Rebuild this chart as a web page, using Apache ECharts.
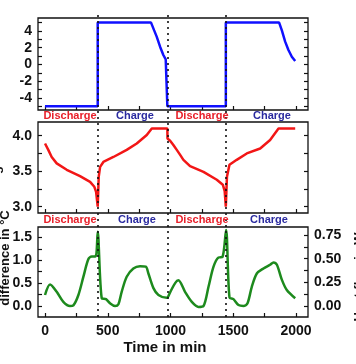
<!DOCTYPE html>
<html>
<head>
<meta charset="utf-8">
<script src="https://cdn.jsdelivr.net/npm/echarts@6/dist/echarts.min.js"></script>
<style>
html,body{margin:0;padding:0;background:#fff;}
#c{width:356px;height:364px;}
</style>
</head>
<body>
<div id="c"></div>
<script>
// ---- data ----
var currentTime   = [0, 420, 420, 845, 869, 890, 917, 943, 962, 975, 975, 1441, 1441, 1866, 1887, 1914, 1940, 1967, 1994];
var currentValues = [-5, -5, 5, 5, 4.1, 3.32, 2.12, 1.13, 0.6, 0.44, -5, -5, 5, 5, 4.1, 2.72, 1.72, 0.92, 0.41];

var voltageTime   = [0, 26, 53, 93, 173, 279, 359, 393, 407, 420, 428, 439, 465, 545, 651, 731, 811, 851, 975, 976, 997, 1023, 1050, 1077, 1103, 1156, 1263, 1369, 1417, 1432, 1441, 1450, 1470, 1528, 1608, 1715, 1794, 1861, 1994];
var voltageValues = [3.89, 3.80, 3.70, 3.61, 3.52, 3.43, 3.35, 3.28, 3.21, 3.0, 3.42, 3.56, 3.63, 3.70, 3.80, 3.89, 4.01, 4.10, 4.10, 3.96, 3.93, 3.87, 3.80, 3.73, 3.66, 3.57, 3.49, 3.38, 3.31, 3.22, 3.0, 3.42, 3.59, 3.66, 3.75, 3.82, 3.94, 4.10, 4.10];

var tempTime   = [0, 40, 93, 146, 199, 226, 266, 306, 345, 372, 399, 410, 420, 452, 486, 518, 558, 585, 611, 651, 704, 757, 803, 824, 864, 904, 970, 997, 1037, 1063, 1116, 1170, 1223, 1263, 1303, 1343, 1383, 1414, 1443, 1470, 1502, 1542, 1582, 1614, 1648, 1688, 1741, 1794, 1821, 1848, 1888, 1927, 1994];
var tempValues = [0.24, 0.47, 0.31, 0.09, 0.0, 0.015, 0.24, 0.64, 1.02, 1.08, 1.08, 1.15, 1.62, 0.17, 0.15, 0.06, 0.0, 0.04, 0.31, 0.64, 0.82, 0.87, 0.86, 0.71, 0.39, 0.24, 0.18, 0.3, 0.5, 0.56, 0.31, 0.09, -0.02, 0.0, 0.42, 0.86, 1.06, 1.07, 1.66, 0.19, 0.15, 0.02, 0.0, 0.06, 0.42, 0.71, 0.82, 0.9, 0.95, 0.9, 0.57, 0.35, 0.17];

var dividerTimes = [420, 975, 1441];
var phaseLabels = ['Discharge', 'Charge', 'Discharge', 'Charge'];

var xTickValues  = [0, 250, 500, 750, 1000, 1250, 1500, 1750, 2000];
var xLabelValues = [0, 500, 1000, 1500, 2000];
var currentTicks  = [-5, -4, -3, -2, -1, 0, 1, 2, 3, 4, 5];
var currentLabels = [-4, -2, 0, 2, 4];
var voltageTicks  = [3.0, 3.25, 3.5, 3.75, 4.0];
var voltageLabels = [3.0, 3.5, 4.0];
var tempTicks  = [0, 0.25, 0.5, 0.75, 1.0, 1.25, 1.5];
var tempLabels = [0, 0.5, 1.0, 1.5];
var rightTicks  = [0, 0.125, 0.25, 0.375, 0.5, 0.625, 0.75];
var rightLabels = [0, 0.25, 0.5, 0.75];

function pairs(t, v) { return t.map(function (x, i) { return [x, v[i]]; }); }

// ---- layout ----
var FONT = 'Liberation Sans, Arial, sans-serif';
var L = 38, R = 48;
var grids = [
  {left: L, right: R, top: 18, height: 92},
  {left: L, right: R, top: 122, height: 91},
  {left: L, right: R, top: 227, height: 90},
  {left: L, right: R, top: 14, height: 303}
];
grids.forEach(function (g, i) {
  if (i < 3) { g.show = true; g.borderColor = '#111'; g.borderWidth = 1.3; g.backgroundColor = 'transparent'; }
});

function xAxisFor(gi, showLabels) {
  return {
    type: 'value', gridIndex: gi, min: -56, max: 2096, position: 'bottom',
    axisLine: {show: false, onZero: false},
    splitLine: {show: false},
    axisTick: {show: true, inside: true, length: 4, customValues: xTickValues, lineStyle: {color: '#111', width: 1.2}},
    axisLabel: {show: showLabels, customValues: xLabelValues, margin: 7, color: '#111',
      fontFamily: FONT, fontWeight: 'bold', fontSize: 14, formatter: function (v) { return String(Math.round(v)); }}
  };
}
function yAxisFor(gi, pos, min, max, ticks, labels, showLabels, fmt) {
  return {
    type: 'value', gridIndex: gi, position: pos, min: min, max: max,
    axisLine: {show: false, onZero: false},
    splitLine: {show: false},
    axisTick: {show: true, inside: true, length: 4, customValues: ticks, lineStyle: {color: '#111', width: 1.2}},
    axisLabel: {show: showLabels, customValues: labels, margin: 6, color: '#111',
      fontFamily: FONT, fontWeight: 'bold', fontSize: 14, formatter: fmt}
  };
}
var f0 = function (v) { return String(Math.round(v)); };
var f1 = function (v) { return v.toFixed(1); };
var f2 = function (v) { return v.toFixed(2); };

var option = {
  animation: false,
  backgroundColor: '#fff',
  grid: grids,
  xAxis: [
    xAxisFor(0, false),
    xAxisFor(1, false),
    xAxisFor(2, true),
    {type: 'value', gridIndex: 3, min: -56, max: 2096, show: false}
  ],
  yAxis: [
    yAxisFor(0, 'left', -5.45, 5.55, currentTicks, currentLabels, true, f0),
    yAxisFor(0, 'right', -5.45, 5.55, currentTicks, currentLabels, false, f0),
    yAxisFor(1, 'left', 2.911, 4.193, voltageTicks, voltageLabels, true, f1),
    yAxisFor(1, 'right', 2.911, 4.193, voltageTicks, voltageLabels, false, f1),
    yAxisFor(2, 'left', -0.24, 1.725, tempTicks, tempLabels, true, f1),
    yAxisFor(2, 'right', -0.118, 0.836, rightTicks, rightLabels, true, f2),
    {type: 'value', gridIndex: 3, min: 0, max: 1, show: false}
  ],
  series: [
    {
      type: 'line', xAxisIndex: 3, yAxisIndex: 6, data: [[0, -10]], symbol: 'none',
      lineStyle: {opacity: 0}, silent: true, z: 1,
      markLine: {
        silent: true, symbol: 'none', label: {show: false},
        lineStyle: {type: [2, 4], color: '#111', width: 1.6},
        data: dividerTimes.map(function (t) { return {xAxis: t}; })
      }
    },
    {
      type: 'line', xAxisIndex: 0, yAxisIndex: 0, data: pairs(currentTime, currentValues),
      symbol: 'none', lineStyle: {color: '#1010ff', width: 2.5}, z: 3
    },
    {
      type: 'line', xAxisIndex: 1, yAxisIndex: 2, data: pairs(voltageTime, voltageValues),
      symbol: 'none', lineStyle: {color: '#f21616', width: 2.5}, z: 3
    },
    {
      type: 'line', xAxisIndex: 2, yAxisIndex: 4, data: pairs(tempTime, tempValues),
      symbol: 'none', smooth: 0.3, lineStyle: {color: '#1d8a1d', width: 2.5}, z: 3
    }
  ],
  graphic: []
};

// phase labels rows
var labelX = [[70, 135, 202, 272], [70, 137, 202, 269]];
var labelY = [116, 220];
labelY.forEach(function (yy, r) {
  phaseLabels.forEach(function (txt, i) {
    option.graphic.push({
      type: 'text', x: labelX[r][i], y: yy, z: 10,
      style: {text: txt, align: 'center', verticalAlign: 'middle',
        font: 'bold 11px ' + FONT, fill: txt === 'Charge' ? '#2b2ba0' : '#e8202a'}
    });
  });
});
// axis titles (partly outside the picture)
option.graphic.push({
  type: 'text', x: 165, y: 348,
  style: {text: 'Time in min', align: 'center', verticalAlign: 'middle', font: 'bold 15px ' + FONT, fill: '#111'}
});
option.graphic.push({
  type: 'text', x: 12, y: 258, rotation: Math.PI / 2,
  style: {text: 'Temperature\ndifference in °C', align: 'center', verticalAlign: 'bottom', font: 'bold 13px ' + FONT, fill: '#111'}
});
option.graphic.push({
  type: 'text', x: 3, y: 168, rotation: Math.PI / 2,
  style: {text: 'Voltage in V', align: 'center', verticalAlign: 'bottom', font: 'bold 13px ' + FONT, fill: '#111'}
});
option.graphic.push({
  type: 'text', x: -2, y: 64, rotation: Math.PI / 2,
  style: {text: 'Current in A', align: 'center', verticalAlign: 'bottom', font: 'bold 13px ' + FONT, fill: '#111'}
});
option.graphic.push({
  type: 'text', x: 353, y: 277, rotation: Math.PI / 2,
  style: {text: 'Heat flow in W', align: 'center', verticalAlign: 'top', font: 'bold 13px ' + FONT, fill: '#111'}
});

var chart = echarts.init(document.getElementById('c'), null, {renderer: 'canvas'});
chart.setOption(option);
</script>
</body>
</html>
